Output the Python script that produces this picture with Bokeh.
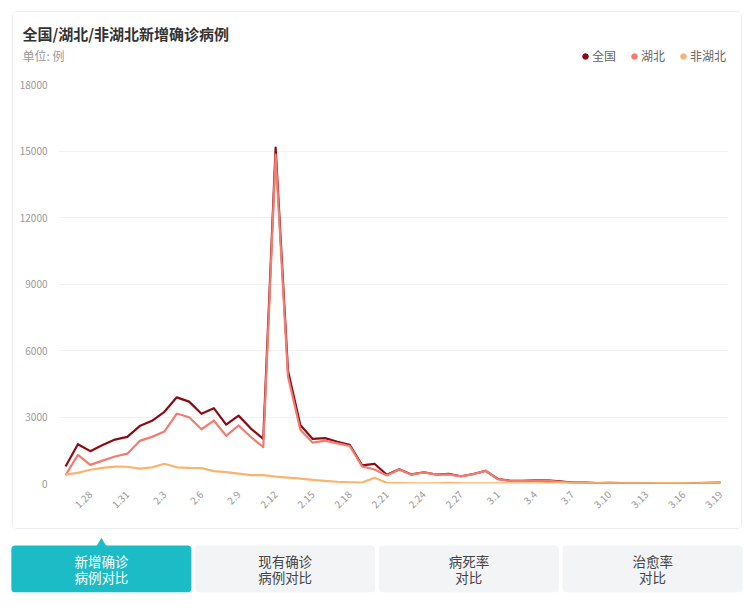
import math
from bokeh.plotting import figure
from bokeh.models import Range1d, FactorRange, FixedTicker, Label, Legend, LegendItem, ColumnDataSource
from bokeh.embed import file_html
from bokeh.resources import INLINE
from bokeh.core.properties import value

# ---------------- data ----------------
dates = ["1.26", "1.27", "1.28", "1.29", "1.30", "1.31",
         "2.1", "2.2", "2.3", "2.4", "2.5", "2.6", "2.7", "2.8", "2.9", "2.10",
         "2.11", "2.12", "2.13", "2.14", "2.15", "2.16", "2.17", "2.18", "2.19", "2.20",
         "2.21", "2.22", "2.23", "2.24", "2.25", "2.26", "2.27", "2.28", "2.29",
         "3.1", "3.2", "3.3", "3.4", "3.5", "3.6", "3.7", "3.8", "3.9", "3.10",
         "3.11", "3.12", "3.13", "3.14", "3.15", "3.16", "3.17", "3.18", "3.19"]

total = [769, 1771, 1459, 1737, 1982, 2102,
         2590, 2829, 3235, 3887, 3694, 3143, 3399, 2656, 3062, 2478,
         2015, 15152, 5090, 2641, 2009, 2048, 1886, 1749, 820, 889,
         397, 648, 409, 508, 406, 433, 327, 427, 573,
         202, 125, 119, 139, 143, 99, 44, 40, 19, 24,
         15, 8, 11, 20, 16, 21, 13, 34, 39]

hubei = [371, 1291, 840, 1032, 1220, 1347,
         1921, 2103, 2345, 3156, 2987, 2447, 2841, 2147, 2618, 2097,
         1638, 14840, 4823, 2420, 1843, 1933, 1807, 1693, 775, 631,
         366, 630, 398, 499, 401, 409, 318, 423, 570,
         196, 114, 115, 134, 126, 74, 41, 36, 17, 13,
         8, 5, 4, 4, 0, 1, 1, 0, 0]

non_hubei = [398, 480, 619, 705, 762, 755,
             669, 726, 890, 731, 707, 696, 558, 509, 444, 381,
             377, 312, 267, 221, 166, 115, 79, 56, 45, 258,
             31, 18, 11, 9, 5, 24, 9, 4, 3,
             6, 11, 4, 5, 17, 25, 3, 4, 2, 11,
             7, 3, 7, 16, 16, 20, 12, 34, 39]

x_tick_labels = ["1.28", "1.31", "2.3", "2.6", "2.9", "2.12", "2.15", "2.18", "2.21",
                 "2.24", "2.27", "3.1", "3.4", "3.7", "3.10", "3.13", "3.16", "3.19"]
y_ticks = [0, 3000, 6000, 9000, 12000, 15000, 18000]

series_names = ["全国", "湖北", "非湖北"]
series_colors = ["#8b0c14", "#f27d6f", "#fbb46e"]

title_text = "全国/湖北/非湖北新增确诊病例"
unit_text = "单位: 例"

button_keys = ["新增确诊病例对比", "现有确诊病例对比", "病死率对比", "治愈率对比"]
button_texts = ["新增确诊\n病例对比", "现有确诊\n病例对比", "病死率\n对比", "治愈率\n对比"]
button_fill = ["#1bbcc6", "#f3f4f6", "#f3f4f6", "#f3f4f6"]
button_text_color = ["#ffffff", "#444444", "#444444", "#444444"]

FONT = "Noto Sans CJK SC"
BORDER = "1px solid #ebedf0"

xs = list(range(len(dates)))
src = ColumnDataSource(dict(x=xs, total=total, hubei=hubei, non_hubei=non_hubei))
cols = ["total", "hubei", "non_hubei"]

# ---------------- header (title, unit, legend) ----------------
HH = 61
hdr = figure(width=730, height=HH, output_backend="svg", toolbar_location=None,
             x_range=Range1d(0, 1), y_range=Range1d(0, 1),
             x_axis_location=None, y_axis_location=None,
             min_border_left=0, min_border_right=0, min_border_top=0, min_border_bottom=0)
hdr.margin = (11, 0, 0, 12)
hdr.styles = {"border-top": BORDER, "border-left": BORDER, "border-right": BORDER,
              "border-radius": "5px 5px 0 0"}
hdr.outline_line_color = None
hdr.grid.visible = False
hdr.background_fill_color = "white"
hdr.border_fill_color = "white"

legend_items = []
for col, name, color in zip(cols, series_names, series_colors):
    dot = hdr.scatter("x", col, source=src, marker="circle", color=color, visible=False)
    legend_items.append(LegendItem(label=name, renderers=[dot]))

hdr.add_layout(Label(x=9, y=HH - 21, x_units="screen", y_units="screen",
                     text=title_text, text_font=FONT, text_font_size="15px",
                     text_font_style="bold", text_color="#333333", text_baseline="middle"))
hdr.add_layout(Label(x=9, y=HH - 43, x_units="screen", y_units="screen",
                     text=unit_text, text_font=FONT, text_font_size="12px",
                     text_color="#999999", text_baseline="middle"))
legend = Legend(items=legend_items, orientation="horizontal", location=(565, 9),
                glyph_width=14, glyph_height=14, label_standoff=0, spacing=11,
                padding=0, margin=0, border_line_color=None, background_fill_alpha=0,
                label_text_font=FONT, label_text_font_size="12px", label_text_color="#666666")
hdr.add_layout(legend)

# ---------------- chart ----------------
HC = 457
p = figure(width=730, height=HC, output_backend="svg", toolbar_location=None,
           x_range=Range1d(-0.57, len(dates) - 1 + 0.65),
           y_range=Range1d(0, max(y_ticks)),
           min_border_left=45, min_border_right=15,
           min_border_top=12, min_border_bottom=46)
p.margin = (0, 0, 0, 12)
p.styles = {"border-bottom": BORDER, "border-left": BORDER, "border-right": BORDER,
            "border-radius": "0 0 5px 5px"}
p.outline_line_color = None
p.background_fill_color = "white"
p.border_fill_color = "white"

for col, color in zip(cols, series_colors):
    p.line("x", col, source=src, line_color=color, line_width=2.2, line_join="round")

tick_idx = [dates.index(t) for t in x_tick_labels]
p.xaxis.ticker = FixedTicker(ticks=tick_idx)
p.xaxis.major_label_overrides = {i: dates[i] for i in tick_idx}
p.xaxis.major_label_orientation = math.pi / 4
p.yaxis.ticker = FixedTicker(ticks=y_ticks)
for ax in (p.xaxis[0], p.yaxis[0]):
    ax.axis_line_color = None
    ax.major_tick_line_color = None
    ax.minor_tick_line_color = None
    ax.major_label_text_color = "#9a9a9a"
    ax.major_label_text_font = FONT
    ax.major_label_text_font_size = "10px"
p.xaxis.major_label_standoff = 3
p.yaxis.major_label_standoff = 5
p.xgrid.grid_line_color = None
p.ygrid.grid_line_color = "#f1f1f1"
p.ygrid.ticker = FixedTicker(ticks=y_ticks)

# ---------------- buttons ----------------
p2 = figure(width=738, height=65, output_backend="svg", toolbar_location=None,
            x_range=FactorRange(factors=button_keys, range_padding=0),
            y_range=Range1d(0, 59 / 47),
            x_axis_location=None, y_axis_location=None,
            min_border_left=1, min_border_right=2, min_border_top=4, min_border_bottom=2)
p2.margin = (0, 0, 0, 8)
p2.outline_line_color = None
p2.grid.visible = False
p2.background_fill_color = "white"
p2.border_fill_color = "white"
bsrc = ColumnDataSource(dict(x=button_keys, txt=button_texts, fill=button_fill, tc=button_text_color))
p2.vbar(x="x", top=1, bottom=0, width=0.98, source=bsrc, fill_color="fill",
        line_color=None, border_radius=4)
p2.scatter(x=[button_keys[0]], y=[1.03], marker="triangle", size=11,
           fill_color=button_fill[0], line_color=None)
p2.text(x="x", y=0.5, text="txt", source=bsrc, text_color="tc", text_align="center",
        text_baseline="middle", text_font=value(FONT), text_font_size="13.5px",
        text_line_height=0.81)

open("out.html", "w").write(file_html([hdr, p, p2], INLINE))
